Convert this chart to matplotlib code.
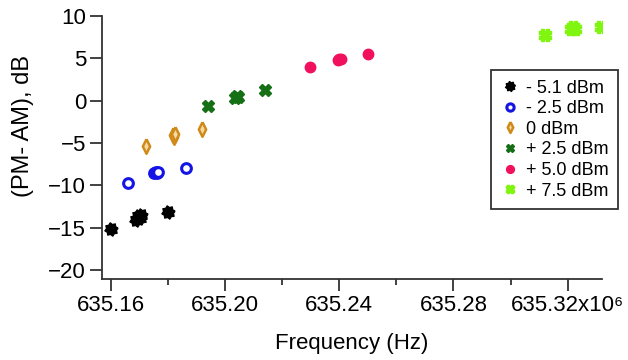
import numpy as np
import matplotlib
matplotlib.use('Agg')
import matplotlib.pyplot as plt
from matplotlib.ticker import MultipleLocator, FuncFormatter

plt.rcParams['font.family'] = ['Liberation Sans', 'DejaVu Sans']

# frequencies in MHz, (PM - AM) in dB
f_m51 = [635.1600, 635.1690, 635.1696, 635.1702, 635.1707, 635.1801]
d_m51 = [-15.1, -14.1, -13.6, -13.9, -13.5, -13.1]

f_m25 = [635.1661, 635.1752, 635.1757, 635.1762, 635.1767, 635.1862]
d_m25 = [-9.75, -8.5, -8.4, -8.5, -8.4, -7.9]

f_0 = [635.1722, 635.1818, 635.1822, 635.1826, 635.1921]
d_0 = [-5.35, -4.0, -4.3, -3.9, -3.4]

f_p25 = [635.1941, 635.2036, 635.2041, 635.2046, 635.2139]
d_p25 = [-0.6, 0.35, 0.6, 0.4, 1.26]

f_p50 = [635.2299, 635.2395, 635.2400, 635.2405, 635.2501]
d_p50 = [4.0, 4.85, 4.95, 4.9, 5.55]

f_p75 = [635.3120, 635.3212, 635.3218, 635.3224, 635.3316]
d_p75 = [7.76, 8.45, 8.65, 8.5, 8.74]

labels = ['- 5.1 dBm', '- 2.5 dBm', '0 dBm', '+ 2.5 dBm', '+ 5.0 dBm', '+ 7.5 dBm']

# marker shapes (closed outlines)
ang = np.linspace(0, 2 * np.pi, 17)[:-1] + np.pi / 16
rad = np.where(np.arange(16) % 2 == 0, 1.0, 0.74)
star = list(zip(rad * np.cos(ang), rad * np.sin(ang)))
star.append(star[0])
hash_m = [(-0.65, -1), (-0.15, -1), (-0.15, -0.65), (0.15, -0.65), (0.15, -1), (0.65, -1),
          (0.65, -0.65), (1, -0.65), (1, -0.15), (0.65, -0.15), (0.65, 0.15), (1, 0.15),
          (1, 0.65), (0.65, 0.65), (0.65, 1), (0.15, 1), (0.15, 0.65), (-0.15, 0.65),
          (-0.15, 1), (-0.65, 1), (-0.65, 0.65), (-1, 0.65), (-1, 0.15), (-0.65, 0.15),
          (-0.65, -0.15), (-1, -0.15), (-1, -0.65), (-0.65, -0.65), (-0.65, -1)]
thin_d = [(0, 1), (0.5, 0), (0, -1), (-0.5, 0), (0, 1)]

fig = plt.figure(figsize=(6.28, 3.6), dpi=100)
ax = fig.add_axes([0.1624, 0.225, 0.7957, 0.7306])

ax.plot(f_m51, d_m51, ls='none', marker=star, ms=9.5, color='black', mec='black', label=labels[0])
ax.plot(f_m25, d_m25, ls='none', marker='o', ms=7, mfc='white', mec='#1414e6', mew=2.2, label=labels[1])
ax.plot(f_0, d_0, ls='none', marker=thin_d, ms=10.5, mfc='#f6d9a0', mec='#d08a1a', mew=1.8, label=labels[2])
ax.plot(f_p25, d_p25, ls='none', marker='X', ms=8, color='#157015', mec='#157015', label=labels[3])
ax.plot(f_p50, d_p50, ls='none', marker='o', ms=7.5, color='#f0105e', mec='#f0105e', label=labels[4])
ax.plot(f_p75, d_p75, ls='none', marker=hash_m, ms=8, color='#80f510', mec='#80f510', label=labels[5])

ax.set_xlim(635.15695, 635.3319)
ax.set_ylim(-21.06, 10)

for s in ['top', 'right']:
    ax.spines[s].set_visible(False)
for s in ['left', 'bottom']:
    ax.spines[s].set_color('#333333')
    ax.spines[s].set_linewidth(1.3)

ax.xaxis.set_major_locator(MultipleLocator(0.04))
ax.xaxis.set_minor_locator(MultipleLocator(0.02))
ax.yaxis.set_major_locator(MultipleLocator(5))


def fmt_x(v, pos):
    s = f'{v:.2f}'
    if abs(v - 635.32) < 1e-6:
        s += 'x10\u2076'
    return s


ax.xaxis.set_major_formatter(FuncFormatter(fmt_x))
ax.tick_params(axis='both', which='major', direction='out', length=8.5, width=1.3,
               color='#333333', labelsize=16, pad=3)
ax.tick_params(axis='x', which='minor', direction='out', length=4.3, width=1.3, color='#333333')

ax.set_xlabel('Frequency (Hz)', fontsize=16, labelpad=12)
ax.set_ylabel('(PM- AM), dB', fontsize=17)
ax.yaxis.set_label_coords(-0.136, 0.58)

leg = fig.legend(loc='upper right', bbox_to_anchor=(0.984, 0.806), fontsize=13,
                 frameon=True, fancybox=False, framealpha=1, edgecolor='#333333',
                 handlelength=1.1, handletextpad=0.3, labelspacing=0.2, borderpad=0.54,
                 borderaxespad=0, markerscale=0.75)
leg.get_frame().set_linewidth(1.3)

fig.savefig('out.png', dpi=100)
